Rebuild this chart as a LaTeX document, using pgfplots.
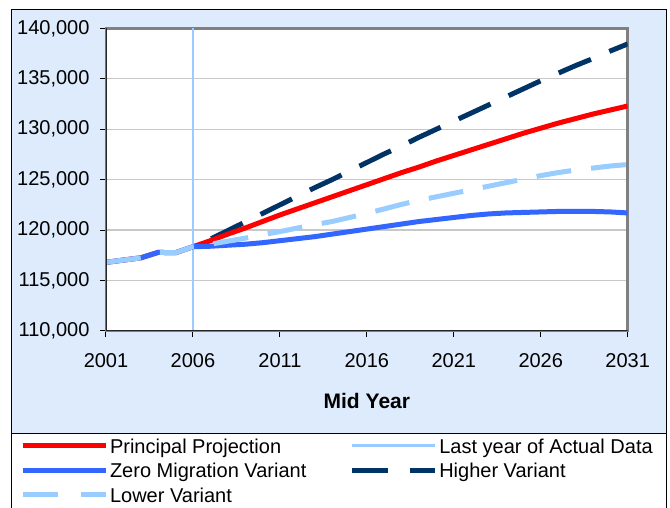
\documentclass[border=0pt]{standalone}
\usepackage{pgfplots}
\pgfplotsset{compat=1.18}
\usepackage{pgfplotstable}
\usepackage{fontspec}
\setmainfont{Liberation Sans}
\definecolor{bgblue}{RGB}{221,235,253}
\definecolor{prinred}{RGB}{255,0,0}
\definecolor{zeroblue}{RGB}{51,102,255}
\definecolor{highnavy}{RGB}{0,51,102}
\definecolor{lowblue}{RGB}{153,204,255}
\definecolor{gridgray}{RGB}{200,200,200}
\definecolor{framegray}{RGB}{128,128,128}

\pgfplotstableread{
year principal zero higher lower
2001 116800 116800 nan 116800
2002 117030 117030 nan 117030
2003 117250 117250 nan 117250
2004 117790 117790 nan 117790
2005 117760 117760 nan 117760
2006 118350 118350 118350 118350
2007 118950 118400 119100 118600
2008 119600 118500 119950 118900
2009 120200 118600 120800 119200
2010 120850 118750 121650 119550
2011 121500 118950 122500 119850
2012 122100 119150 123350 120200
2013 122700 119350 124200 120550
2014 123300 119600 125000 120850
2015 123900 119850 125850 121250
2016 124500 120100 126700 121650
2017 125100 120350 127550 122100
2018 125700 120600 128350 122550
2019 126250 120850 129200 122950
2020 126850 121050 130000 123300
2021 127400 121250 130800 123650
2022 127950 121450 131600 124000
2023 128500 121600 132400 124350
2024 129050 121700 133200 124700
2025 129600 121750 134000 125050
2026 130100 121800 134800 125400
2027 130600 121850 135550 125700
2028 131050 121850 136300 125950
2029 131500 121850 137000 126150
2030 131900 121800 137750 126350
2031 132300 121700 138450 126500
}\datatable

\begin{document}
\begin{tikzpicture}
\useasboundingbox (0,0) rectangle (670pt,508pt);
\fill[white] (0,0) rectangle (670pt,508pt);
\filldraw[fill=bgblue, draw=black, line width=1pt] (11.5pt,74.7pt) rectangle (666pt,498pt);
\fill[white] (11.5pt,-10pt) rectangle (666pt,74.7pt);
\draw[black, line width=1pt] (11.5pt,-10pt) -- (11.5pt,74.7pt) -- (666pt,74.7pt) -- (666pt,-10pt);
\begin{axis}[
  at={(106pt,177pt)}, anchor=south west,
  scale only axis, width=521.7pt, height=302.7pt,
  xmin=2001, xmax=2031, ymin=110000, ymax=140000,
  xtick={2001,2006,2011,2016,2021,2026,2031},
  ytick={110000,115000,120000,125000,130000,135000,140000},
  tick pos=left, tick align=outside, major tick length=6pt,
  tick style={black, line width=1pt},
  axis background/.style={fill=white},
  axis line style={draw=framegray, line width=2.5pt},
  ymajorgrids, grid style={gridgray, line width=1.3pt},
  scaled y ticks=false,
  /pgf/number format/assume math mode=true,
  xticklabel style={font=\fontsize{20}{24}\selectfont, /pgf/number format/1000 sep={}, yshift=-13.5pt},
  yticklabel style={font=\fontsize{20}{24}\selectfont, /pgf/number format/1000 sep={,}, /pgf/number format/fixed, xshift=-7pt},
  xlabel={Mid Year},
  xlabel style={font=\fontsize{21}{25}\selectfont\bfseries, at={(axis description cs:0.5,-0.2315)}, anchor=center},
  legend columns=2, legend cell align=left,
  legend image code/.code={\draw[#1, line cap=butt] (0pt,2.8pt) -- (83pt,2.8pt);},
  legend style={at={(axis description cs:-0.1648,-0.3561)}, anchor=north west,
    draw=none, fill=none, inner sep=0pt, outer sep=0pt, row sep=5pt,
    font=\fontsize{20}{24}\selectfont,
    nodes={inner sep=0pt, text height=14.5pt, text depth=5pt},
    /tikz/every odd column/.append style={column sep=2pt},
    /tikz/every even column/.append style={column sep=42.9pt}},
]
\addplot[lowblue, line width=2.5pt, forget plot] coordinates {(2006,110000) (2006,140000)};
\addplot[highnavy, line width=5pt, dash pattern=on 35pt off 20pt, dash phase=35pt, forget plot] table[x=year, y=higher] {\datatable};
\addplot[prinred, line width=5pt, line join=round, forget plot] table[x=year, y=principal] {\datatable};
\addplot[zeroblue, line width=5pt, line join=round, forget plot] table[x=year, y=zero] {\datatable};
\addplot[lowblue, line width=5pt, dash pattern=on 35pt off 20pt, forget plot] table[x=year, y=lower] {\datatable};
\draw[black!85, line width=1.5pt] (rel axis cs:0,1) -- (rel axis cs:0,0) -- (rel axis cs:1,0);

\addlegendimage{prinred, line width=5pt}
\addlegendentry{Principal Projection}
\addlegendimage{lowblue, line width=3pt}
\addlegendentry{Last year of Actual Data}
\addlegendimage{zeroblue, line width=5pt}
\addlegendentry{Zero Migration Variant}
\addlegendimage{highnavy, line width=5pt, dash pattern=on 36pt off 22pt}
\addlegendentry{Higher Variant}
\addlegendimage{lowblue, line width=5pt, dash pattern=on 35pt off 23pt}
\addlegendentry{Lower Variant}
\end{axis}
\end{tikzpicture}
\end{document}
